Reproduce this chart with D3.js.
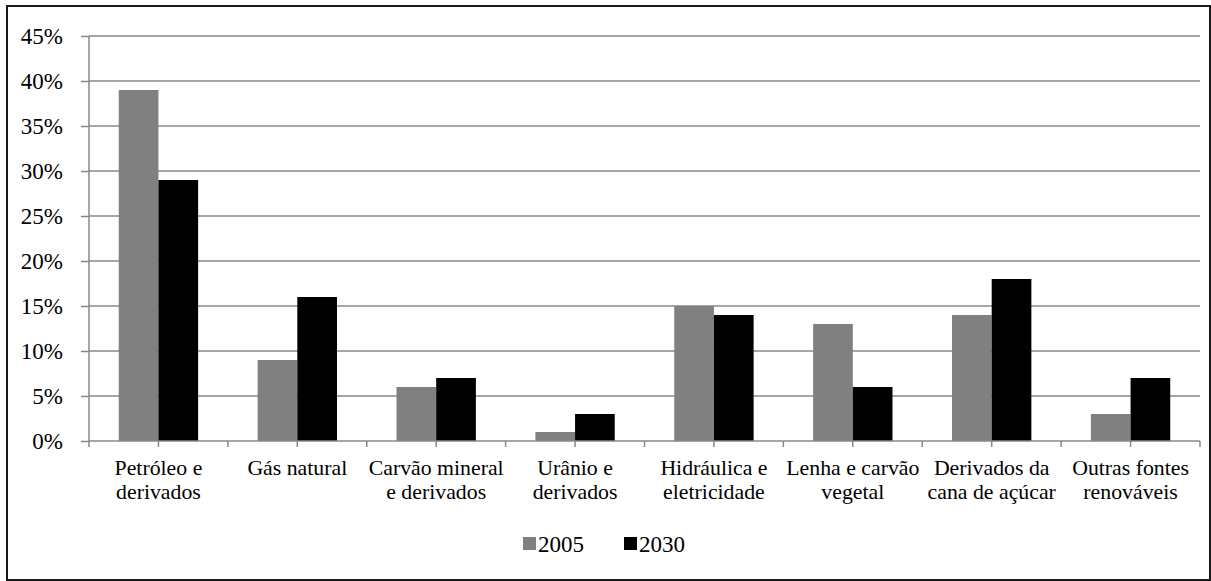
<!DOCTYPE html>
<html>
<head>
<meta charset="utf-8">
<script src="https://cdn.jsdelivr.net/npm/d3@7/dist/d3.min.js"></script>
</head>
<body style="margin:0">
<svg id="chart" width="1211" height="581"></svg>
<script>
// Participação de cada fonte na matriz energética (%)
const categories = [
  ["Petróleo e", "derivados"],
  ["Gás natural"],
  ["Carvão mineral", "e derivados"],
  ["Urânio e", "derivados"],
  ["Hidráulica e", "eletricidade"],
  ["Lenha e carvão", "vegetal"],
  ["Derivados da", "cana de açúcar"],
  ["Outras fontes", "renováveis"]
];
const seriesNames = ["2005", "2030"];
const values2005 = [39, 9, 6, 1, 15, 13, 14, 3];
const values2030 = [29, 16, 7, 3, 14, 6, 18, 7];
const yTicks = [0, 5, 10, 15, 20, 25, 30, 35, 40, 45];

const FONT = "Liberation Serif";
const seriesValues = [values2005, values2030];
const colors = ["#808080", "#000000"];

const svg = d3.select("#chart");

// outer frame
svg.append("rect")
  .attr("x", 7).attr("y", 6)
  .attr("width", 1203).attr("height", 574)
  .attr("fill", "#fff")
  .attr("stroke", "#1a1a1a")
  .attr("stroke-width", 2);

const plot = { left: 89, right: 1200, top: 36, bottom: 441 };

const keys = categories.map((c, i) => i);
const x = d3.scaleBand()
  .domain(keys)
  .range([plot.left, plot.right])
  .paddingInner(0).paddingOuter(0);

// gap width 150% of a bar: 2 bars + 1.5 bar widths of gap per category
const barW = x.bandwidth() / 3.5;

const y = d3.scaleLinear().domain([0, 45]).range([plot.bottom, plot.top]);

// horizontal gridlines
svg.append("g")
  .selectAll("line")
  .data(yTicks.filter(t => t > 0))
  .join("line")
  .attr("x1", plot.left).attr("x2", plot.right)
  .attr("y1", d => y(d)).attr("y2", d => y(d))
  .attr("stroke", "#888").attr("stroke-width", 1.5);

// y axis
const yAxis = svg.append("g")
  .attr("transform", `translate(${plot.left},0)`)
  .call(d3.axisLeft(y).tickValues(yTicks).tickSize(8).tickPadding(18)
    .tickFormat(d => d + "%"));
yAxis.attr("font-family", FONT).attr("font-size", 23);
yAxis.select(".domain").attr("stroke", "#888").attr("stroke-width", 1.5)
  .attr("d", `M0,${plot.top}V${plot.bottom}`);
yAxis.selectAll(".tick line").attr("stroke", "#888").attr("stroke-width", 1.5);
yAxis.selectAll(".tick text")
  .attr("font-family", FONT)
  .attr("font-size", 23).attr("fill", "#000").attr("dy", "0.34em");

// bars
seriesValues.forEach((vals, s) => {
  svg.append("g")
    .selectAll("rect")
    .data(vals)
    .join("rect")
    .attr("x", (d, i) => x(i) + x.bandwidth() / 2 - barW + s * barW)
    .attr("y", d => y(d))
    .attr("width", barW)
    .attr("height", d => y(0) - y(d))
    .attr("fill", colors[s]);
});

// x axis with ticks at category edges and centers
const xAxisG = svg.append("g");
xAxisG.append("line")
  .attr("x1", plot.left).attr("x2", plot.right)
  .attr("y1", plot.bottom).attr("y2", plot.bottom)
  .attr("stroke", "#888").attr("stroke-width", 1.5);
const tickXs = [];
keys.forEach(i => { tickXs.push(x(i)); tickXs.push(x(i) + x.bandwidth() / 2); });
tickXs.push(plot.right);
xAxisG.selectAll("line.tick")
  .data(tickXs)
  .join("line")
  .attr("class", "tick")
  .attr("x1", d => d).attr("x2", d => d)
  .attr("y1", plot.bottom).attr("y2", plot.bottom + 6)
  .attr("stroke", "#888").attr("stroke-width", 1.5);

// category labels
const labels = svg.append("g");
categories.forEach((lines, i) => {
  const t = labels.append("text")
    .attr("x", x(i) + x.bandwidth() / 2)
    .attr("y", 475)
    .attr("text-anchor", "middle")
    .attr("font-family", FONT)
    .attr("font-size", 21.8);
  lines.forEach((ln, j) => {
    t.append("tspan")
      .attr("x", x(i) + x.bandwidth() / 2)
      .attr("dy", j === 0 ? 0 : 24)
      .text(ln);
  });
});

// legend
const legendItems = [
  { name: seriesNames[0], color: colors[0], x: 523 },
  { name: seriesNames[1], color: colors[1], x: 624 }
];
const legend = svg.append("g");
legendItems.forEach(it => {
  legend.append("rect")
    .attr("x", it.x).attr("y", 537)
    .attr("width", 13).attr("height", 13)
    .attr("fill", it.color);
  legend.append("text")
    .attr("x", it.x + 15).attr("y", 552)
    .attr("font-family", FONT)
    .attr("font-size", 23)
    .text(it.name);
});
</script>
</body>
</html>
